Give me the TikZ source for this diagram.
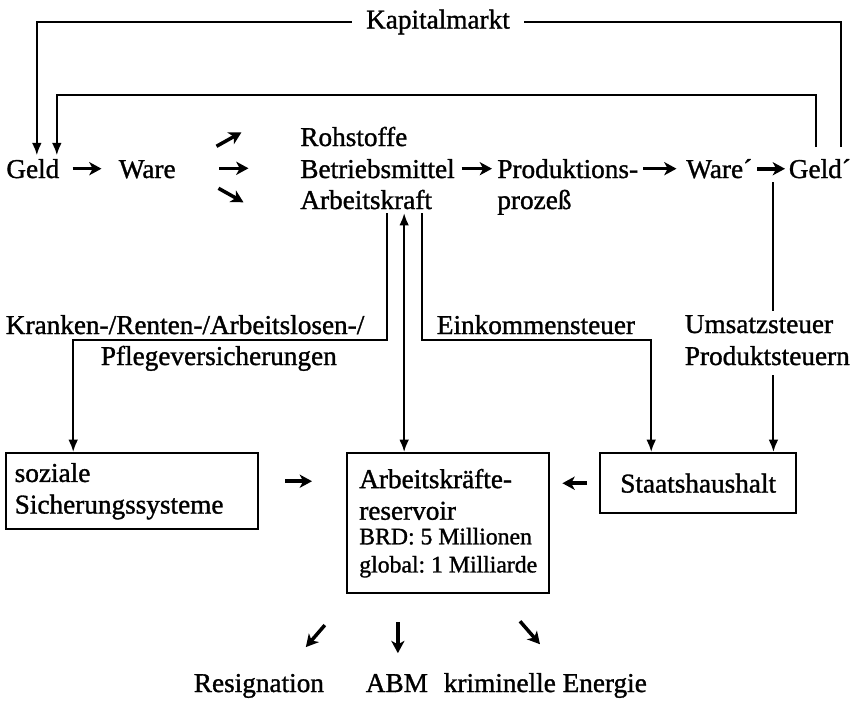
\documentclass[tikz,border=0pt]{standalone}
\usepackage{fontspec}
\setmainfont{Liberation Serif}[FakeBold=1.2]
\usetikzlibrary{arrows.meta,positioning,calc}
\newcommand{\kleinschrift}{\fontsize{13.5}{14}\selectfont}
\frenchspacing
\tikzset{
  beschrift/.style={font=\fontsize{15.5}{18}\selectfont, inner sep=2pt},
  kasten/.style={draw, line width=1.4pt, beschrift, align=left, anchor=north west},
  fett/.style={-{Stealth[length=7pt,width=7.5pt,inset=2pt]}, line width=2pt},
  linie/.style={line width=1.1pt},
  spitze/.style={linie, -{Latex[length=7pt,width=5.5pt]}},
  doppel/.style={linie, {Latex[length=7pt,width=5.5pt]}-{Latex[length=7pt,width=5.5pt]}}
}
\begin{document}
\begin{tikzpicture}[x=0.02cm,y=-0.02cm,every node/.style={beschrift}]
\useasboundingbox (0,0) rectangle (866,704);
% obere Zeile: Kreislauf des Kapitals
\node[anchor=base west] (geld) at (2.5,178) {Geld};
\node[anchor=base west] (ware) at (115,178) {Ware};
\node[anchor=base west] (roh) at (296.5,146) {Rohstoffe};
\node[anchor=base west] (betrieb) at (296.5,178) {Betriebsmittel};
\node[anchor=base west] (arbeit) at (296.5,209) {Arbeitskraft};
\node[anchor=base west] (prod) at (493.5,178) {Produktions-};
\node[anchor=base west] (prozess) at (493.5,209) {prozeß};
\node[anchor=base west] (ware2) at (682.5,178) {Ware´};
\node[anchor=base west] (geld2) at (785,178) {Geld´};
\node[inner xsep=8pt] (kapital) at (438,22) {Kapitalmarkt};
\coordinate (oben) at (438,95);
\draw[fett, shorten <=0.19cm, shorten >=0.27cm] (geld.east) -- (geld.east -| ware.west);
\draw[fett] ([shift={(37,-23)}]ware.east) -- ++(25,-14);
\draw[fett] ([shift={(40,-1)}]ware.east) -- ++(29,0);
\draw[fett] ([shift={(39,19)}]ware.east) -- ++(25,14);
\draw[fett, shorten <=0.06cm, shorten >=0.03cm] (betrieb.east) -- (betrieb.east -| prod.west);
\draw[fett, shorten <=0.03cm, shorten >=0.12cm] (prod.east) -- (prod.east -| ware2.west);
\draw[fett, shorten <=0.02cm] (ware2.east) -- (ware2.east -| geld2.west);
% Rueckfluss ueber den Kapitalmarkt
\draw[linie] ([shift={(21,-8)}]geld2.north) |- (kapital.east);
\draw[spitze] (kapital.west) -| ([shift={(4,0)}]geld.north);
\draw[spitze] ([shift={(-4,-8)}]geld2.north) |- (oben) -| ([shift={(24,0)}]geld.north);
% Abgaben
\node[anchor=base west] (kranken) at (2,334) {Kranken-/Renten-/Arbeitslosen-/};
\node[anchor=base west] (pflege) at (97,365) {Pflegeversicherungen};
\node[anchor=base west] (einkommen) at (433,334) {Einkommensteuer};
\node[anchor=base west] (umsatz) at (681,333) {Umsatzsteuer};
\node[anchor=base west] (produkt) at (681,365) {Produktsteuern};
\coordinate (knick1) at (230,340);
\coordinate (knick2) at (540,340);
\coordinate (steuerlinie) at ($(ware2.south east)!0.6!(geld2.south west)$);
% Kaesten
\node[kasten, minimum width=5.04cm, minimum height=1.52cm, text width=4.7cm] (sozial) at (5,452) {soziale\\Sicherungssysteme};
\node[kasten, minimum width=4.04cm, minimum height=2.8cm] (reservoir) at (346,452) {Arbeitskräfte-\\reservoir\\[-4pt]\kleinschrift BRD: 5 Millionen\\[-2pt]\kleinschrift global: 1 Milliarde};
\node[kasten, minimum width=3.92cm, minimum height=1.2cm] (staat) at (599,452) {Staatshaushalt};
\draw[spitze] ([shift={(21,0)}]arbeit.south) |- (knick1) -| ([shift={(-59,0)}]sozial.north);
\draw[doppel] ([shift={(38,0)}]arbeit.south) -- ([shift={(38,0)}]arbeit.south |- reservoir.north);
\draw[spitze] ([shift={(56,0)}]arbeit.south) |- (knick2) -| ([shift={(-47,0)}]staat.north);
\draw[linie] (steuerlinie) -- (steuerlinie |- umsatz.north);
\draw[spitze, shorten <=0.12cm] (steuerlinie |- produkt.south) -- (steuerlinie |- staat.north);
\draw[fett, shorten <=0.52cm, shorten >=0.68cm] ([shift={(0,-10)}]sozial.east) -- ([shift={(0,-10)}]sozial.east -| reservoir.west);
\draw[fett, shorten <=0.24cm, shorten >=0.24cm] (staat.west) -- (staat.west -| reservoir.east);
% Folgen
\node[anchor=base west] (resig) at (190,692) {Resignation};
\node[anchor=base west] (abm) at (362,692) {ABM};
\node[anchor=base west] (krimi) at (440,692) {kriminelle Energie};
\draw[fett] ([shift={(-3,-45)}]resig.north east) -- ++(-19,22);
\draw[fett] ([shift={(1,-48)}]abm.north) -- ++(0,31);
\draw[fett] ([shift={(80,-48)}]krimi.north west) -- ++(20,23);
\end{tikzpicture}
\end{document}
